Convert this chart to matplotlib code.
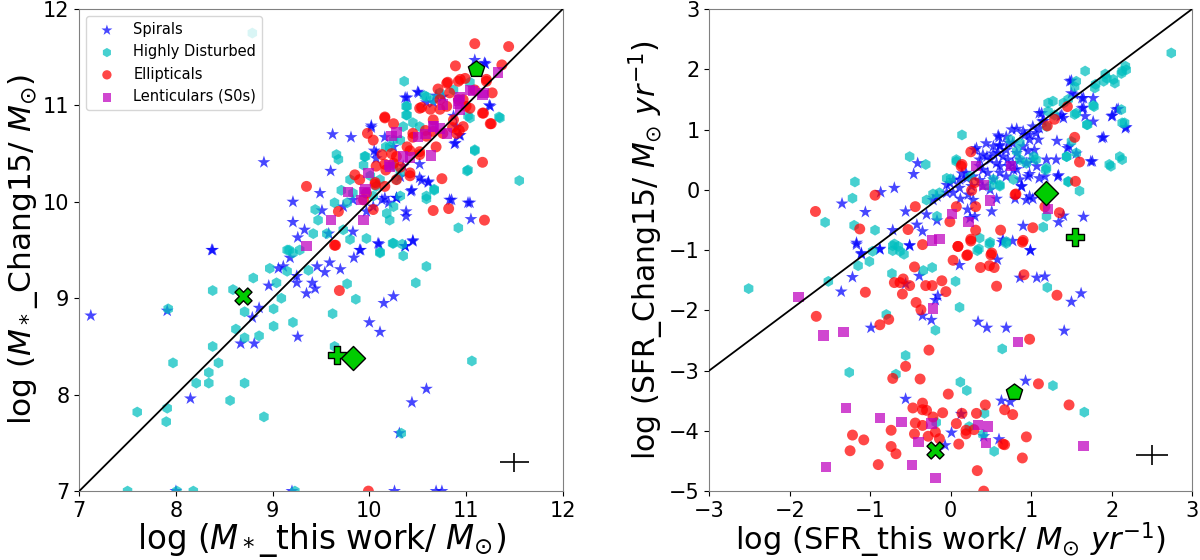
import numpy as np
import matplotlib
matplotlib.use("Agg")
import matplotlib.pyplot as plt

# ---- stellar mass panel (this work, Chang15) ----
mass_spirals = [
    (8.91, 10.41), (8.37, 9.50), (9.62, 10.70), (9.81, 10.67), (10.02, 10.79), (10.37, 11.08),
    (10.50, 11.14), (11.09, 11.47), (11.19, 11.44), (11.24, 11.00), (10.89, 10.61), (10.94, 10.69),
    (9.60, 10.32), (9.49, 10.09), (9.21, 10.00), (9.21, 9.79), (9.33, 9.71), (9.26, 9.63),
    (9.51, 9.91), (9.58, 9.67), (9.83, 9.69), (9.90, 9.50), (10.09, 9.57), (10.45, 9.60),
    (10.37, 9.54), (10.38, 9.90), (10.38, 9.85), (10.85, 10.02), (11.02, 9.99), (11.04, 9.99),
    (11.05, 9.82), (10.44, 10.12), (10.52, 10.25), (10.61, 10.21), (10.13, 10.02), (10.20, 9.99),
    (10.28, 10.04), (10.32, 10.26), (10.35, 10.37), (10.07, 10.51), (10.25, 10.57), (10.66, 11.03),
    (10.76, 11.09), (10.87, 10.89), (10.90, 10.78), (10.04, 9.95), (9.97, 9.90), (9.83, 10.02),
    (9.73, 9.95), (7.12, 8.82), (7.91, 8.87), (8.15, 7.96), (8.38, 9.50), (8.67, 8.53),
    (8.81, 8.53), (8.79, 8.80), (8.86, 8.90), (8.96, 9.13), (9.06, 9.31), (9.11, 9.33),
    (9.18, 9.42), (9.26, 8.60), (9.25, 9.23), (9.25, 9.16), (9.35, 9.05), (9.41, 9.16),
    (9.44, 9.10), (9.46, 9.33), (9.54, 9.27), (9.59, 9.37), (9.70, 9.30), (9.84, 9.42),
    (9.91, 9.50), (10.00, 8.75), (10.11, 8.65), (10.15, 8.95), (10.25, 9.02), (10.10, 9.56),
    (10.37, 9.54), (10.45, 9.59), (10.44, 7.92), (10.59, 8.06), (10.31, 7.60), (8.00, 7.00),
    (9.20, 7.00), (10.26, 7.00), (10.69, 7.00), (10.75, 7.00), (11.20, 11.43), (10.51, 11.13),
    (10.39, 11.08), (11.25, 10.99), (10.88, 10.60), (10.93, 10.69), (10.02, 10.77), (10.16, 10.67),
    (10.05, 10.53), (10.07, 10.45), (10.52, 10.39), (10.54, 10.22), (10.61, 10.20), (10.43, 10.11),
    (10.28, 10.04), (10.16, 10.04), (10.83, 10.02), (10.69, 11.10), (10.59, 11.03),
]
mass_disturbed = [
    (8.79, 11.75), (10.36, 11.25), (11.55, 10.22), (11.34, 10.88), (11.02, 10.89), (11.09, 10.53),
    (11.01, 10.32), (10.67, 10.12), (10.59, 10.03), (10.92, 9.73), (10.34, 9.56), (10.25, 9.57),
    (9.66, 10.49), (9.68, 10.44), (9.95, 10.47), (9.94, 10.38), (9.80, 10.23), (9.71, 10.12),
    (9.64, 9.99), (9.44, 9.92), (9.47, 9.81), (9.42, 9.67), (9.56, 9.67), (9.73, 9.71),
    (9.80, 9.61), (9.97, 9.62), (10.11, 9.48), (10.18, 9.88), (10.21, 9.81), (10.25, 9.95),
    (9.28, 9.50), (9.21, 9.47), (9.15, 9.50), (10.38, 10.99), (10.38, 10.90), (10.59, 11.09),
    (10.73, 11.13), (10.87, 11.16), (11.04, 10.87), (10.32, 10.64), (10.45, 10.82), (10.52, 10.78),
    (10.21, 10.57), (10.25, 10.37), (10.07, 10.16), (10.04, 10.06), (10.32, 10.06), (9.83, 10.09),
    (9.77, 9.99), (7.60, 7.82), (7.90, 7.72), (7.91, 7.86), (7.92, 8.89), (7.97, 8.33),
    (8.21, 8.12), (8.34, 8.23), (8.34, 8.12), (8.44, 8.33), (8.38, 8.50), (8.38, 9.08),
    (8.56, 7.94), (8.71, 8.12), (8.91, 7.77), (8.62, 8.68), (8.71, 8.59), (8.71, 8.86),
    (8.59, 9.09), (8.80, 9.21), (8.86, 8.61), (8.97, 9.31), (9.01, 8.89), (9.01, 8.71),
    (9.04, 9.16), (9.09, 9.00), (9.21, 8.75), (9.15, 9.28), (9.17, 9.50), (9.37, 9.29),
    (9.62, 8.84), (9.64, 8.50), (9.77, 9.15), (9.86, 8.99), (10.11, 9.47), (10.24, 9.57),
    (10.35, 9.44), (10.48, 9.16), (10.59, 9.33), (11.06, 8.35), (10.33, 7.60), (7.50, 7.00),
    (8.01, 7.00), (8.18, 7.00), (9.23, 7.00), (10.39, 10.99), (10.39, 10.90), (10.57, 11.10),
    (10.66, 11.06), (11.04, 11.24), (11.35, 10.87), (11.09, 10.54), (11.02, 10.33), (10.67, 10.13),
    (10.59, 10.06), (10.32, 10.30), (10.17, 10.57), (10.25, 10.64), (10.35, 10.78), (9.96, 10.47),
    (10.01, 10.27), (10.11, 10.23), (10.28, 10.23),
]
mass_ellipticals = [
    (11.09, 11.64), (11.44, 11.61), (10.89, 11.41), (11.37, 11.42), (11.27, 11.13), (11.17, 10.92),
    (11.26, 10.81), (11.17, 10.41), (10.75, 10.24), (10.66, 9.91), (10.82, 9.93), (11.19, 9.81),
    (10.16, 10.88), (9.98, 10.71), (10.04, 10.64), (10.13, 10.49), (9.85, 10.28), (10.06, 10.20),
    (9.35, 10.16), (9.68, 9.90), (9.64, 9.55), (10.52, 10.97), (10.42, 10.53), (10.52, 10.52),
    (10.42, 10.30), (10.25, 10.40), (10.28, 10.23), (10.80, 11.23), (10.94, 11.27), (10.99, 11.28),
    (11.09, 11.16), (11.21, 11.27), (10.92, 11.06), (11.00, 10.99), (10.87, 10.85), (10.97, 10.78),
    (10.90, 10.71), (10.66, 10.85), (10.73, 10.96), (10.59, 10.68), (10.69, 10.57), (10.45, 10.71),
    (10.28, 10.47), (10.17, 10.33), (10.07, 10.37), (9.94, 10.02), (9.97, 10.09), (10.04, 9.92),
    (9.90, 10.23), (10.66, 10.73), (10.80, 10.99), (9.69, 9.08), (9.65, 9.55), (9.99, 7.00),
    (10.16, 10.87), (10.25, 10.81), (10.54, 10.98), (10.63, 10.96), (10.73, 11.06), (10.81, 11.24),
    (10.92, 11.25), (11.21, 11.25), (11.18, 10.92), (11.25, 10.81), (10.93, 10.74), (10.86, 10.77),
    (10.58, 10.74), (10.45, 10.67), (10.39, 10.57), (10.16, 10.39), (10.06, 10.18), (10.16, 10.16),
    (10.42, 10.27), (10.52, 10.49), (10.97, 11.06), (10.71, 11.17), (10.83, 11.13), (11.04, 10.97),
    (10.76, 10.71), (10.32, 10.36), (10.23, 10.50),
]
mass_lenticulars = [
    (11.33, 11.34), (11.17, 11.11), (11.04, 11.16), (10.92, 11.02), (10.94, 10.95), (10.73, 10.76),
    (10.66, 10.78), (10.58, 10.70), (10.28, 10.72), (10.23, 10.68), (10.64, 10.48), (10.35, 10.47),
    (10.20, 10.38), (9.99, 10.30), (9.95, 10.10), (9.92, 10.02), (9.78, 10.10), (9.94, 9.81),
    (9.60, 9.81), (9.35, 9.54), (10.94, 11.09), (10.80, 10.71), (11.18, 11.13), (11.07, 11.15),
    (10.93, 11.05), (10.76, 11.01), (10.67, 10.78), (10.50, 10.67), (10.42, 10.46), (10.21, 10.36),
    (9.96, 10.13),
]
# special objects: X, plus, diamond, pentagon
mass_special = [(8.69, 9.02), (9.67, 8.41), (9.83, 8.38), (11.10, 11.38)]
mass_err_pos = (11.5, 7.3)
mass_err = (0.15, 0.1)

# ---- SFR panel ----
sfr_spirals = [
    (-1.35, -0.23), (-0.87, -0.04), (-0.70, 0.03), (-1.06, -0.37), (-0.46, 0.26), (-0.41, 0.44),
    (-0.56, -0.36), (-0.42, -0.58), (-0.51, -0.92), (-0.35, -0.69), (-0.88, -0.98), (-1.17, -0.88),
    (-1.11, -1.05), (-0.72, -0.67), (-0.30, -0.41), (-0.17, -0.51), (-0.22, -0.17), (-0.17, -0.11),
    (-0.05, 0.08), (0.03, -0.05), (0.14, 0.27), (0.20, 0.19), (0.22, -0.08), (0.12, -0.15),
    (0.21, -0.33), (0.24, -0.47), (0.30, -0.44), (0.32, 0.69), (0.36, 0.50), (0.40, 0.33),
    (0.45, 0.55), (0.53, 0.60), (0.59, 0.90), (0.61, 0.72), (0.72, 0.78), (0.76, 1.00),
    (0.82, 1.01), (0.90, 0.97), (0.98, 0.91), (1.02, 1.05), (1.09, 0.83), (1.13, 1.27),
    (1.15, 1.14), (1.36, 1.22), (1.40, 1.19), (1.50, 1.81), (1.54, 1.58), (1.65, 1.52),
    (1.77, 1.52), (1.65, 1.36), (1.67, 1.22), (1.77, 1.13), (2.08, 1.34), (2.01, 1.23),
    (2.18, 1.04), (1.90, 0.87), (1.32, 0.81), (1.47, 0.72), (1.56, 0.60), (1.76, 0.47),
    (1.34, 0.24), (1.17, 0.22), (1.19, 0.50), (1.07, 0.39), (0.98, 0.26), (0.88, 0.05),
    (1.02, -0.15), (0.80, -0.15), (0.94, -0.17), (1.40, -0.43), (1.34, -0.54), (1.65, -0.45),
    (0.90, -0.60), (0.99, -1.00), (0.65, -0.83), (0.57, -0.15), (0.51, -0.36), (0.49, 0.00),
    (0.28, -0.17), (0.61, 0.28), (0.72, 0.39), (0.78, 0.33), (0.86, 0.50), (0.96, 0.64),
    (0.36, 0.16), (0.03, 0.16), (0.60, 0.87), (0.61, 0.74), (0.30, 0.66), (0.40, 0.58),
    (0.49, 0.50), (0.36, 0.39), (0.19, 0.28), (0.11, 0.17), (0.28, 0.22), (0.46, 0.28),
    (0.61, 0.39), (0.71, 0.50), (0.82, 0.61), (0.90, 0.72), (0.98, 0.83), (1.06, 0.94),
    (1.10, 1.02), (1.14, 1.13), (0.82, 0.34), (0.96, 0.22), (0.88, 0.06), (1.10, 0.19),
    (1.33, 0.22), (1.31, 0.50), (1.45, 0.69), (1.74, 0.47), (1.88, 0.86), (2.17, 1.02),
    (2.00, 1.22), (2.06, 1.33), (1.63, 1.35), (1.50, 1.60), (1.63, 1.52), (1.48, 1.80),
    (1.38, 1.24), (1.10, 1.27), (0.92, 0.91), (0.77, 0.77), (0.69, 0.66), (0.59, 0.61),
    (0.53, 0.72), (0.44, 0.77), (0.69, 0.88), (0.65, 0.55), (0.57, 0.44), (0.77, 0.44),
    (0.94, 0.44), (1.02, 0.50), (1.04, 0.66), (0.86, 0.17), (0.69, 0.22), (0.53, 0.17),
    (0.40, 0.06), (0.26, 0.06), (0.11, 0.03), (-0.01, 0.11), (-0.05, -0.05), (0.98, -0.11),
    (1.14, -0.08), (-1.36, -1.69), (-1.22, -1.45), (-1.11, -1.07), (-1.17, -0.91), (-0.88, -0.99),
    (-0.51, -0.93), (-0.56, -3.47), (-0.56, -1.56), (-0.39, -1.43), (-0.35, -2.09), (-0.24, -2.16),
    (-0.99, -2.29), (-0.19, -1.83), (-0.16, -1.76), (0.11, -1.25), (0.34, -2.19), (0.45, -2.29),
    (0.69, -2.29), (0.58, -1.16), (0.64, -0.87), (0.99, -1.01), (0.86, -1.46), (1.07, -1.46),
    (1.17, -1.44), (1.41, -2.34), (1.50, -1.86), (1.62, -1.72), (0.93, -3.17), (0.63, -3.50),
    (0.74, -3.52), (0.13, -3.72), (0.01, -4.03), (-0.07, -4.24), (0.41, -4.09), (0.60, -4.14),
    (0.77, -0.85),
]
sfr_disturbed = [
    (2.74, 2.27), (1.67, 1.97), (2.18, 1.99), (2.12, 1.93), (2.04, 1.77), (1.94, 1.85),
    (1.90, 1.80), (1.79, 1.69), (1.56, 1.80), (1.54, 1.71), (2.12, 1.33), (2.16, 1.11),
    (1.77, 1.40), (1.70, 1.08), (1.56, 1.27), (1.54, 1.25), (1.27, 1.47), (1.40, 1.44),
    (1.19, 1.05), (2.10, 0.55), (1.97, 0.42), (1.44, 0.55), (1.56, 0.61), (1.60, -0.02),
    (1.46, 0.14), (1.19, 0.36), (1.19, -0.44), (1.15, -0.62), (0.14, 0.91), (-0.51, 0.55),
    (-0.31, 0.42), (-1.19, 0.13), (-1.22, -0.14), (-1.56, -0.54), (-1.20, -0.59), (-0.94, -0.67),
    (-0.70, -0.90), (-0.63, -1.02), (0.00, 0.18), (0.07, 0.47), (-0.22, -0.07), (-0.30, -0.17),
    (-0.14, -0.05), (-0.17, -0.44), (0.36, -0.80), (0.49, -0.87), (0.35, -0.98), (0.69, -0.86),
    (0.24, 0.22), (0.53, 0.17), (0.61, 0.08), (0.78, 0.17), (0.74, 0.83), (0.94, 0.44),
    (1.03, 0.55), (0.86, 0.78), (0.82, 0.64), (1.92, 1.92), (2.02, 1.83), (2.13, 1.97),
    (2.17, 2.05), (1.80, 1.75), (1.46, 1.50), (1.21, 1.44), (1.78, 1.38), (2.13, 1.11),
    (1.69, 1.08), (1.50, 0.80), (1.44, 0.55), (2.13, 0.50), (1.99, 0.39), (1.46, 0.13),
    (1.18, 0.33), (1.06, 0.50), (-0.05, 0.19), (0.07, 0.50), (0.49, 0.06), (0.61, 0.06),
    (0.86, 0.50), (1.21, 1.30), (1.29, 1.24), (-2.51, -1.64), (-1.52, -1.52), (-1.15, -1.26),
    (-1.01, -1.19), (-0.97, -1.02), (-0.72, -1.01), (-0.72, -0.93), (-0.65, -0.94), (-0.58, -1.07),
    (-0.73, -1.39), (-0.23, -1.29), (-0.34, -1.34), (-0.80, -2.07), (-0.19, -2.33), (0.06, -1.52),
    (0.11, -1.95), (0.33, -1.01), (0.48, -0.90), (0.69, -0.89), (0.64, -2.64), (1.20, -1.62),
    (-1.26, -3.03), (-0.68, -3.06), (-0.56, -2.75), (0.12, -3.19), (0.20, -3.33), (0.42, -3.71),
    (0.23, -3.93), (0.40, -4.06), (0.54, -4.34), (1.27, -3.25), (1.66, -3.69), (-0.18, -3.86),
]
sfr_ellipticals = [
    (-1.68, -0.36), (-0.94, -0.09), (-1.13, -0.65), (-0.44, -0.28), (-0.53, -0.66), (-0.35, -0.91),
    (0.07, -0.28), (-0.01, -0.53), (0.09, -0.94), (0.21, -1.08), (0.31, -0.28), (0.31, -0.67),
    (0.25, -0.82), (0.51, -1.05), (0.62, -0.67), (0.90, -0.84), (1.02, -0.63), (0.81, -0.07),
    (1.17, -0.28), (1.35, -0.38), (1.55, 0.14), (1.60, 0.46), (1.54, 0.87), (1.29, 1.17),
    (1.20, 1.06), (1.45, 1.38), (0.14, 0.42), (0.25, 0.63), (0.30, 0.12), (0.26, -0.01),
    (0.13, 0.39), (0.80, -0.08), (-1.67, -2.10), (-1.06, -1.70), (-0.88, -2.24), (-0.77, -2.15),
    (-0.70, -1.54), (-0.63, -1.54), (-0.59, -1.48), (-0.51, -1.59), (-0.60, -1.73), (-0.45, -1.28),
    (-0.31, -1.59), (-0.23, -1.59), (-0.11, -1.51), (-0.06, -1.69), (-0.43, -1.87), (-0.37, -1.99),
    (0.03, -1.17), (0.09, -0.94), (0.20, -1.09), (0.25, -0.85), (0.37, -1.29), (0.48, -1.26),
    (0.54, -1.29), (0.50, -1.08), (0.57, -1.60), (0.91, -1.41), (0.89, -0.87), (1.32, -1.75),
    (0.98, -2.48), (-0.27, -2.66), (-0.56, -2.93), (-0.72, -3.13), (-0.38, -3.14), (-0.03, -3.39),
    (-0.35, -3.54), (-0.47, -3.62), (-0.35, -3.65), (-0.30, -3.66), (-0.22, -3.77), (-0.10, -3.70),
    (0.14, -3.71), (0.32, -3.71), (0.43, -3.57), (0.67, -3.65), (0.77, -3.73), (1.09, -3.22),
    (1.47, -3.57), (-0.74, -3.99), (-1.22, -4.07), (-1.08, -4.15), (-1.25, -4.33), (-0.74, -4.26),
    (-0.68, -4.38), (-0.90, -4.56), (-0.44, -3.87), (-0.45, -4.05), (-0.35, -3.91), (-0.28, -4.09),
    (-0.19, -4.02), (-0.14, -4.13), (0.07, -3.88), (0.19, -4.05), (0.19, -3.99), (0.10, -4.22),
    (0.29, -3.98), (0.33, -4.66), (0.65, -4.22), (0.67, -4.23), (0.94, -4.10), (0.89, -4.45),
    (0.41, -5.00),
]
sfr_lenticulars = [
    (0.31, 0.39), (0.75, 0.40), (0.41, 0.08), (0.49, -0.18), (0.02, -0.40), (0.22, -0.53),
    (-0.23, -0.84), (-0.14, -0.82), (1.21, -0.32), (-1.89, -1.78), (-1.58, -2.42), (-1.33, -2.36),
    (-0.22, -1.97), (0.84, -2.52), (-1.30, -3.62), (-0.88, -3.79), (-0.61, -3.85), (-0.24, -3.88),
    (-0.40, -4.19), (-0.48, -4.57), (-0.19, -4.78), (0.34, -3.90), (0.46, -3.93), (0.44, -4.20),
    (-1.55, -4.60), (1.65, -4.25),
]
sfr_special = [(-0.19, -4.31), (1.54, -0.79), (1.19, -0.05), (0.79, -3.36)]
sfr_err_pos = (2.5, -4.4)
sfr_err = (0.2, 0.17)

special_markers = ["X", "P", "D", "p"]
classes = [
    ("Spirals", "*", "b", 95),
    ("Highly Disturbed", "h", "c", 62),
    ("Ellipticals", "o", "r", 62),
    ("Lenticulars (S0s)", "s", "m", 55),
]


def draw_panel(ax, groups, special, err_pos, err, line, xlabel, ylabel, legend, xfs, yfs):
    for pts, (name, mk, col, size) in zip(groups, classes):
        arr = np.array(pts)
        ax.scatter(arr[:, 0], arr[:, 1], marker=mk, c=col, s=size, alpha=0.72,
                   edgecolors="none", label=name, zorder=2)
    ax.plot(line, line, color="k", lw=1.3, zorder=3)
    for (x, y), mk in zip(special, special_markers):
        ax.scatter(x, y, marker=mk, c="#00cc00", s=150, edgecolors="k",
                   linewidths=1, zorder=4)
    ax.errorbar(err_pos[0], err_pos[1], xerr=err[0], yerr=err[1], color="k",
                lw=1.2, capsize=0, zorder=4)
    ax.set_xlabel(xlabel, fontsize=xfs, labelpad=0)
    ax.set_ylabel(ylabel, fontsize=yfs, labelpad=2)
    ax.tick_params(labelsize=15)
    for sp in ax.spines.values():
        sp.set_color("0.5")
    if legend:
        ax.legend(loc="upper left", fontsize=10.5, markerscale=0.85)


fig = plt.figure(figsize=(12, 5.6), dpi=100)
ax1 = fig.add_axes([0.066, 0.123, 0.403, 0.861])
ax2 = fig.add_axes([0.591, 0.123, 0.4025, 0.861])

draw_panel(ax1, [mass_spirals, mass_disturbed, mass_ellipticals, mass_lenticulars],
           mass_special, mass_err_pos, mass_err, [7, 12],
           r"log ($M_*$_this work/ $M_{\odot}$)", r"log ($M_*$_Chang15/ $M_{\odot}$)",
           True, 23.5, 22.5)
ax1.set_xlim(7, 12)
ax1.set_ylim(7, 12)
ax1.set_xticks(range(7, 13))
ax1.set_yticks(range(7, 13))

draw_panel(ax2, [sfr_spirals, sfr_disturbed, sfr_ellipticals, sfr_lenticulars],
           sfr_special, sfr_err_pos, sfr_err, [-5, 3],
           r"log (SFR_this work/ $M_{\odot}$ $yr^{-1}$)",
           r"log (SFR_Chang15/ $M_{\odot}$ $yr^{-1}$)", False, 22, 21.5)
ax2.set_xlim(-3, 3)
ax2.set_ylim(-5, 3)
ax2.set_xticks(range(-3, 4))
ax2.set_yticks(range(-5, 4))

fig.savefig("out.png", dpi=100)
